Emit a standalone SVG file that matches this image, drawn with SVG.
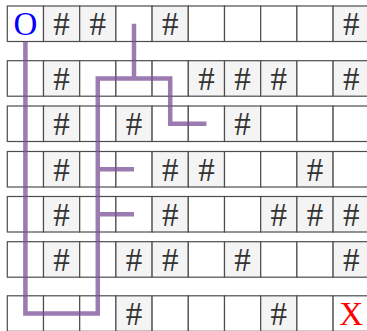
<svg xmlns="http://www.w3.org/2000/svg" width="367" height="331" viewBox="0 0 367 331">
<style>
rect{stroke:#4d4d4d;stroke-width:1.2;fill:#ffffff}
rect.h{fill:#f4f4f4}
text{font-family:"Liberation Serif","Times New Roman",serif;font-size:33px;text-anchor:middle}
text.t{fill:#333333}
text.o{fill:#0000ff}
text.x{fill:#ff0000}
.path{fill:none;stroke:#7a4f96;stroke-width:4.5;stroke-linejoin:miter;stroke-linecap:butt}
</style>
<rect x="0" y="0" width="367" height="331" style="fill:#ffffff;stroke:none"/>
<g id="cells">
<g id="r0c0"><rect x="7.3" y="6" width="36.2" height="35.5"/><text class="o" x="25.4" y="35.25">O</text></g>
<g id="r0c1"><rect class="h" x="43.5" y="6" width="36.2" height="35.5"/><text class="t" x="61.6" y="35.25">#</text></g>
<g id="r0c2"><rect class="h" x="79.7" y="6" width="36.2" height="35.5"/><text class="t" x="97.8" y="35.25">#</text></g>
<g id="r0c3"><rect x="115.9" y="6" width="36.2" height="35.5"/></g>
<g id="r0c4"><rect class="h" x="152.1" y="6" width="36.2" height="35.5"/><text class="t" x="170.2" y="35.25">#</text></g>
<g id="r0c5"><rect x="188.3" y="6" width="36.2" height="35.5"/></g>
<g id="r0c6"><rect x="224.5" y="6" width="36.2" height="35.5"/></g>
<g id="r0c7"><rect x="260.7" y="6" width="36.2" height="35.5"/></g>
<g id="r0c8"><rect x="296.9" y="6" width="36.2" height="35.5"/></g>
<g id="r0c9"><rect class="h" x="333.1" y="6" width="36.2" height="35.5"/><text class="t" x="351.2" y="35.25">#</text></g>

<g id="r1c0"><rect x="7.3" y="60.7" width="36.2" height="35.5"/></g>
<g id="r1c1"><rect class="h" x="43.5" y="60.7" width="36.2" height="35.5"/><text class="t" x="61.6" y="89.95">#</text></g>
<g id="r1c2"><rect x="79.7" y="60.7" width="36.2" height="35.5"/></g>
<g id="r1c3"><rect x="115.9" y="60.7" width="36.2" height="35.5"/></g>
<g id="r1c4"><rect x="152.1" y="60.7" width="36.2" height="35.5"/></g>
<g id="r1c5"><rect class="h" x="188.3" y="60.7" width="36.2" height="35.5"/><text class="t" x="206.4" y="89.95">#</text></g>
<g id="r1c6"><rect class="h" x="224.5" y="60.7" width="36.2" height="35.5"/><text class="t" x="242.6" y="89.95">#</text></g>
<g id="r1c7"><rect class="h" x="260.7" y="60.7" width="36.2" height="35.5"/><text class="t" x="278.8" y="89.95">#</text></g>
<g id="r1c8"><rect x="296.9" y="60.7" width="36.2" height="35.5"/></g>
<g id="r1c9"><rect class="h" x="333.1" y="60.7" width="36.2" height="35.5"/><text class="t" x="351.2" y="89.95">#</text></g>

<g id="r2c0"><rect x="7.3" y="106" width="36.2" height="35.5"/></g>
<g id="r2c1"><rect class="h" x="43.5" y="106" width="36.2" height="35.5"/><text class="t" x="61.6" y="135.25">#</text></g>
<g id="r2c2"><rect x="79.7" y="106" width="36.2" height="35.5"/></g>
<g id="r2c3"><rect class="h" x="115.9" y="106" width="36.2" height="35.5"/><text class="t" x="134" y="135.25">#</text></g>
<g id="r2c4"><rect x="152.1" y="106" width="36.2" height="35.5"/></g>
<g id="r2c5"><rect x="188.3" y="106" width="36.2" height="35.5"/></g>
<g id="r2c6"><rect class="h" x="224.5" y="106" width="36.2" height="35.5"/><text class="t" x="242.6" y="135.25">#</text></g>
<g id="r2c7"><rect x="260.7" y="106" width="36.2" height="35.5"/></g>
<g id="r2c8"><rect x="296.9" y="106" width="36.2" height="35.5"/></g>
<g id="r2c9"><rect x="333.1" y="106" width="36.2" height="35.5"/></g>

<g id="r3c0"><rect x="7.3" y="151.5" width="36.2" height="35.5"/></g>
<g id="r3c1"><rect class="h" x="43.5" y="151.5" width="36.2" height="35.5"/><text class="t" x="61.6" y="180.75">#</text></g>
<g id="r3c2"><rect x="79.7" y="151.5" width="36.2" height="35.5"/></g>
<g id="r3c3"><rect x="115.9" y="151.5" width="36.2" height="35.5"/></g>
<g id="r3c4"><rect class="h" x="152.1" y="151.5" width="36.2" height="35.5"/><text class="t" x="170.2" y="180.75">#</text></g>
<g id="r3c5"><rect class="h" x="188.3" y="151.5" width="36.2" height="35.5"/><text class="t" x="206.4" y="180.75">#</text></g>
<g id="r3c6"><rect x="224.5" y="151.5" width="36.2" height="35.5"/></g>
<g id="r3c7"><rect x="260.7" y="151.5" width="36.2" height="35.5"/></g>
<g id="r3c8"><rect class="h" x="296.9" y="151.5" width="36.2" height="35.5"/><text class="t" x="315" y="180.75">#</text></g>
<g id="r3c9"><rect x="333.1" y="151.5" width="36.2" height="35.5"/></g>

<g id="r4c0"><rect x="7.3" y="196.5" width="36.2" height="35.5"/></g>
<g id="r4c1"><rect class="h" x="43.5" y="196.5" width="36.2" height="35.5"/><text class="t" x="61.6" y="225.75">#</text></g>
<g id="r4c2"><rect x="79.7" y="196.5" width="36.2" height="35.5"/></g>
<g id="r4c3"><rect x="115.9" y="196.5" width="36.2" height="35.5"/></g>
<g id="r4c4"><rect class="h" x="152.1" y="196.5" width="36.2" height="35.5"/><text class="t" x="170.2" y="225.75">#</text></g>
<g id="r4c5"><rect x="188.3" y="196.5" width="36.2" height="35.5"/></g>
<g id="r4c6"><rect x="224.5" y="196.5" width="36.2" height="35.5"/></g>
<g id="r4c7"><rect class="h" x="260.7" y="196.5" width="36.2" height="35.5"/><text class="t" x="278.8" y="225.75">#</text></g>
<g id="r4c8"><rect class="h" x="296.9" y="196.5" width="36.2" height="35.5"/><text class="t" x="315" y="225.75">#</text></g>
<g id="r4c9"><rect class="h" x="333.1" y="196.5" width="36.2" height="35.5"/><text class="t" x="351.2" y="225.75">#</text></g>

<g id="r5c0"><rect x="7.3" y="241.7" width="36.2" height="35.5"/></g>
<g id="r5c1"><rect class="h" x="43.5" y="241.7" width="36.2" height="35.5"/><text class="t" x="61.6" y="270.95">#</text></g>
<g id="r5c2"><rect x="79.7" y="241.7" width="36.2" height="35.5"/></g>
<g id="r5c3"><rect class="h" x="115.9" y="241.7" width="36.2" height="35.5"/><text class="t" x="134" y="270.95">#</text></g>
<g id="r5c4"><rect class="h" x="152.1" y="241.7" width="36.2" height="35.5"/><text class="t" x="170.2" y="270.95">#</text></g>
<g id="r5c5"><rect x="188.3" y="241.7" width="36.2" height="35.5"/></g>
<g id="r5c6"><rect class="h" x="224.5" y="241.7" width="36.2" height="35.5"/><text class="t" x="242.6" y="270.95">#</text></g>
<g id="r5c7"><rect x="260.7" y="241.7" width="36.2" height="35.5"/></g>
<g id="r5c8"><rect x="296.9" y="241.7" width="36.2" height="35.5"/></g>
<g id="r5c9"><rect class="h" x="333.1" y="241.7" width="36.2" height="35.5"/><text class="t" x="351.2" y="270.95">#</text></g>

<g id="r6c0"><rect x="7.3" y="295.8" width="36.2" height="35.5"/></g>
<g id="r6c1"><rect x="43.5" y="295.8" width="36.2" height="35.5"/></g>
<g id="r6c2"><rect x="79.7" y="295.8" width="36.2" height="35.5"/></g>
<g id="r6c3"><rect class="h" x="115.9" y="295.8" width="36.2" height="35.5"/><text class="t" x="134" y="325.05">#</text></g>
<g id="r6c4"><rect x="152.1" y="295.8" width="36.2" height="35.5"/></g>
<g id="r6c5"><rect x="188.3" y="295.8" width="36.2" height="35.5"/></g>
<g id="r6c6"><rect x="224.5" y="295.8" width="36.2" height="35.5"/></g>
<g id="r6c7"><rect class="h" x="260.7" y="295.8" width="36.2" height="35.5"/><text class="t" x="278.8" y="325.05">#</text></g>
<g id="r6c8"><rect x="296.9" y="295.8" width="36.2" height="35.5"/></g>
<g id="r6c9"><rect x="333.1" y="295.8" width="36.2" height="35.5"/><text class="x" x="351.2" y="325.05">X</text></g>
</g>
<g id="connectors" opacity="0.75">
<path class="path" d="M25.4 41.5 V313.55 H97.8 V78.45 H170.2 V123.75 H206.4"/>
<path class="path" d="M134 23.75 V78.45"/>
<path class="path" d="M97.8 169.25 H134"/>
<path class="path" d="M97.8 214.25 H134"/>
</g>
</svg>
